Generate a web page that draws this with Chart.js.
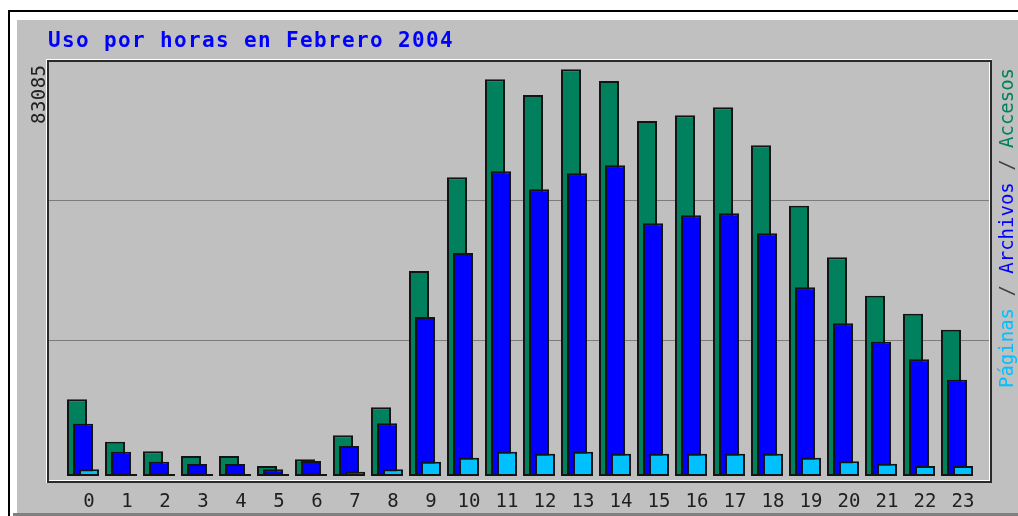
<!DOCTYPE html>
<html><head><meta charset="utf-8">
<script src="https://cdn.jsdelivr.net/npm/chart.js@4.4.1/dist/chart.umd.min.js"></script>
<style>html,body{margin:0;padding:0;background:#fff;overflow:hidden}#wrap{width:1018px;height:516px;position:relative}</style>
</head><body><div id="wrap"><canvas id="c" width="1018" height="516"></canvas></div>
<script>
const TITLE = 'Uso por horas en Febrero 2004';
const hours = [0,1,2,3,4,5,6,7,8,9,10,11,12,13,14,15,16,17,18,19,20,21,22,23];
const hourLabels = ['0','1','2','3','4','5','6','7','8','9','10','11','12','13','14','15','16','17','18','19','20','21','22','23'];
const accesos  = [15670,7010,5050,4090,4090,2040,3410,8320,14040,41880,61030,81050,77840,83085,80700,72530,73690,75330,67560,55220,44680,36840,33160,29890];
const archivos = [10690,4960,2920,2450,2450,1370,3060,6130,10770,32480,45560,62250,58570,61840,63480,51630,53260,53670,49580,38550,31200,27440,23840,19670];
const paginas  = [1370,200,200,200,200,150,200,880,1370,2920,3740,4960,4560,4960,4560,4560,4560,4560,4560,3740,3000,2510,2040,2040];
const maxLabel = '83085';
const gridValues = [27600, 56200];
const yMax = 84580;
const legendParts = [['Páginas','#00c0ff'],[' / ','#404040'],['Archivos','#0000ff'],[' / ','#404040'],['Accesos','#00805c']];

const MONO = '"DejaVu Sans Mono", monospace';

const framePlugin = {
  id: 'frame',
  beforeDraw(chart) {
    const ctx = chart.ctx, W = chart.width, H = chart.height, a = chart.chartArea;
    ctx.save();
    ctx.fillStyle = '#ffffff'; ctx.fillRect(0, 0, W, H);
    ctx.fillStyle = '#000000';
    ctx.fillRect(8, 10, W - 8, 2);
    ctx.fillRect(8, 10, 2, H - 10);
    ctx.fillStyle = '#c0c0c0';
    ctx.fillRect(17, 20, W - 17, H - 23);
    ctx.fillStyle = '#808080';
    ctx.fillRect(13, H - 3, W - 13, 3);
    const L = a.left - 2, T = a.top - 2, R = a.right + 2, B = a.bottom + 6;
    ctx.fillStyle = '#ffffff';
    ctx.fillRect(L - 1, T - 1, R - L + 2, 1);
    ctx.fillRect(L - 1, T - 1, 1, B - T + 2);
    ctx.fillStyle = '#2a2a2a';
    ctx.fillRect(L, T, R - L, 2);
    ctx.fillRect(L, T, 2, B - T);
    ctx.fillRect(R - 1, T, 2, B - T);
    ctx.fillRect(L, B - 1, R - L + 1, 2);
    ctx.fillStyle = '#ffffff';
    ctx.fillRect(R - 2, T + 2, 1, B - T - 3);
    ctx.fillRect(L + 2, B - 2, R - L - 3, 1);
    ctx.restore();
  },
  afterDraw(chart) {
    const ctx = chart.ctx, a = chart.chartArea;
    ctx.save();
    ctx.font = 'bold 21px ' + MONO;
    ctx.fillStyle = '#0000ff';
    ctx.textBaseline = 'alphabetic';
    ctx.textAlign = 'left';
    for (let i = 0; i < TITLE.length; i++) ctx.fillText(TITLE[i], a.left - 1 + i * 14, 47);
    ctx.save();
    ctx.translate(45, 124);
    ctx.rotate(-Math.PI / 2);
    ctx.font = '19px ' + MONO;
    ctx.fillStyle = '#202020';
    for (let i = 0; i < maxLabel.length; i++) ctx.fillText(maxLabel[i], i * 11.9, 0);
    ctx.restore();
    ctx.save();
    ctx.translate(1013, 388);
    ctx.rotate(-Math.PI / 2);
    ctx.font = '19px ' + MONO;
    let k = 0;
    for (const [txt, col] of legendParts) {
      ctx.fillStyle = col;
      for (const ch of txt) { ctx.fillText(ch, k * 11.43, 0); k++; }
    }
    ctx.restore();
    ctx.restore();
  }
};

const barCommon = { borderColor: '#141414', borderWidth: 2, borderSkipped: false, maxBarThickness: 20, grouped: false };

new Chart(document.getElementById('c'), {
  type: 'bar',
  data: {
    datasets: [
      Object.assign({ label: 'Accesos', data: hours.map(h => ({ x: h, y: accesos[h] })), xAxisID: 'xA', backgroundColor: '#00805c', order: 3 }, barCommon),
      Object.assign({ label: 'Archivos', data: hours.map(h => ({ x: h, y: archivos[h] })), xAxisID: 'xF', backgroundColor: '#0000ff', order: 2 }, barCommon),
      Object.assign({ label: 'Páginas', data: hours.map(h => ({ x: h, y: paginas[h] })), xAxisID: 'x', backgroundColor: '#00c0ff', order: 1, minBarLength: 2 }, barCommon)
    ]
  },
  options: {
    responsive: false,
    devicePixelRatio: 1,
    animation: false,
    layout: { padding: { left: 49, right: 29, top: 62, bottom: 0 } },
    plugins: { legend: { display: false }, title: { display: false }, tooltip: { enabled: false } },
    scales: {
      x: {
        type: 'linear', offset: false, min: -40 / 38, max: 900 / 38,
        afterBuildTicks: s => { s.ticks = hours.map(v => ({ value: v })); },
        afterFit: s => { s.height = 40; },
        ticks: { callback: v => hourLabels[v], font: { family: MONO, size: 19 }, color: '#202020', padding: 15, autoSkip: false, maxRotation: 0 },
        grid: { display: false, drawTicks: false, offset: false },
        border: { display: false }
      },
      xA: { type: 'linear', offset: false, display: false, min: -28 / 38, max: 912 / 38 },
      xF: { type: 'linear', offset: false, display: false, min: -34 / 38, max: 906 / 38 },
      y: {
        min: 0, max: yMax,
        afterBuildTicks: s => { s.ticks = gridValues.map(v => ({ value: v })); },
        afterFit: s => { s.width = 0; },
        ticks: { display: false },
        grid: { color: '#7c7c7c', lineWidth: 1, drawTicks: false },
        border: { display: false }
      }
    }
  },
  plugins: [framePlugin]
});
</script>
</body></html>
